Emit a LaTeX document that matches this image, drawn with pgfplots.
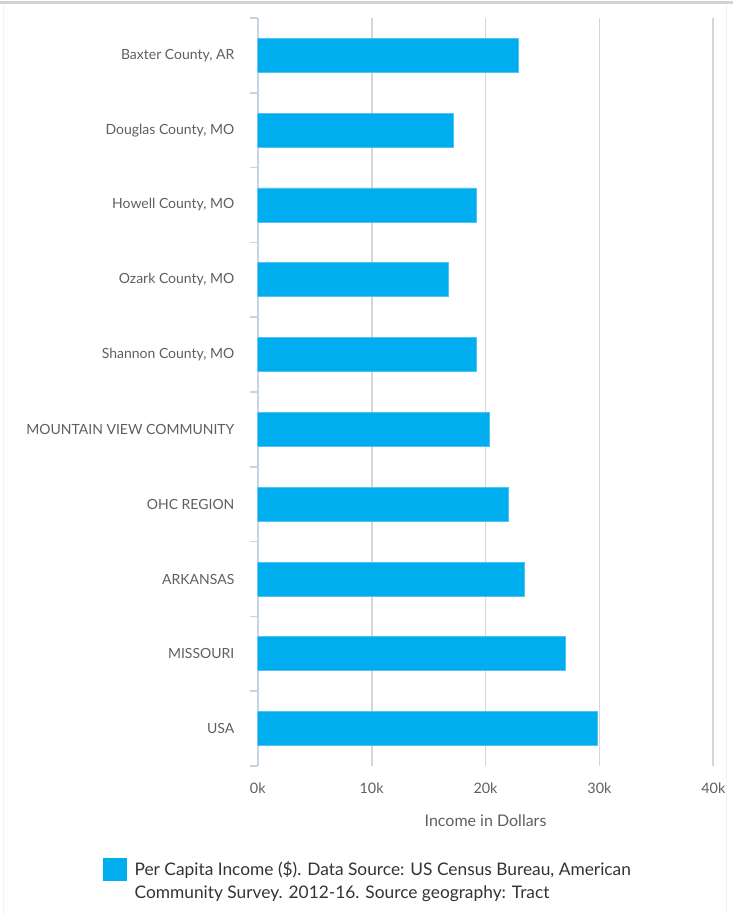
\documentclass[border=0pt]{standalone}
\usepackage{fontspec}
\setmainfont{Lato}
\usepackage{pgfplots}
\pgfplotsset{compat=1.18}
\definecolor{barblue}{RGB}{0,174,239}
\definecolor{baredge}{RGB}{80,195,243}
\definecolor{axisblue}{RGB}{200,212,228}
\definecolor{gridgray}{RGB}{214,214,214}
\definecolor{labgray}{RGB}{95,95,95}
\definecolor{legtext}{RGB}{51,51,51}
\begin{document}
\begin{tikzpicture}
\useasboundingbox (0,0) rectangle (549.75pt,685.5pt);
\draw[gray!35, line width=2.25pt] (0,683.25pt) -- (549.75pt,683.25pt);
\draw[gray!10, line width=0.75pt] (2.25pt,0) -- (2.25pt,682pt);
\draw[gray!10, line width=0.75pt] (545pt,0) -- (545pt,682pt);
\begin{axis}[
  at={(193.3pt,111pt)}, anchor=south west,
  scale only axis, width=341.7pt, height=561pt,
  xmin=0, xmax=40000, ymin=-0.5, ymax=9.5, y dir=reverse,
  xbar, bar width=25.5pt, bar shift=0pt,
  xtick={0,10000,20000,30000,40000},
  xticklabels={0k,10k,20k,30k,40k},
  scaled x ticks=false,
  ytick={0,1,2,3,4,5,6,7,8,9},
  yticklabels={{Baxter County, AR},{Douglas County, MO},{Howell County, MO},{Ozark County, MO},{Shannon County, MO},{MOUNTAIN VIEW COMMUNITY},{OHC REGION},{ARKANSAS},{MISSOURI},{USA}},
  minor ytick={-0.5,0.5,1.5,2.5,3.5,4.5,5.5,6.5,7.5,8.5,9.5},
  axis x line*=bottom, axis y line*=left,
  x axis line style={draw=none},
  y axis line style={draw=axisblue, line width=1.5pt, -},
  tick align=outside,
  major tick length=0pt, minor tick length=6pt,
  minor tick style={draw=axisblue, line width=1.2pt},
  xmajorgrids, major grid style={draw=gridgray, line width=1.3pt},
  ticklabel style={font=\fontsize{10.5}{12}\selectfont, text=labgray},
  xticklabel style={font=\fontsize{10.8}{12}\selectfont, yshift=-9pt},
  yticklabel style={xshift=-14pt},
  xlabel={Income in Dollars},
  xlabel style={font=\fontsize{12}{13}\selectfont, text=labgray, yshift=-9pt},
  legend style={at={(axis description cs:-0.3396,-0.122)}, anchor=north west,
    draw=none, fill=none, inner sep=0pt, column sep=4pt,
    font=\fontsize{13}{17.25}\selectfont, text=legtext,
    cells={anchor=west, align=left}},
  legend image code/.code={\fill[barblue] (0pt,0pt) rectangle (17pt,17pt);},
]
\addplot[fill=barblue, draw=baredge, line width=0.5pt] coordinates {
  (22900,0) (17200,1) (19200,2) (16700,3) (19200,4)
  (20300,5) (22000,6) (23400,7) (27000,8) (29800,9)
};
\addlegendentry{Per Capita Income (\$). Data Source: US Census Bureau, American\\Community Survey. 2012-16. Source geography: Tract}
\end{axis}
\end{tikzpicture}
\end{document}
